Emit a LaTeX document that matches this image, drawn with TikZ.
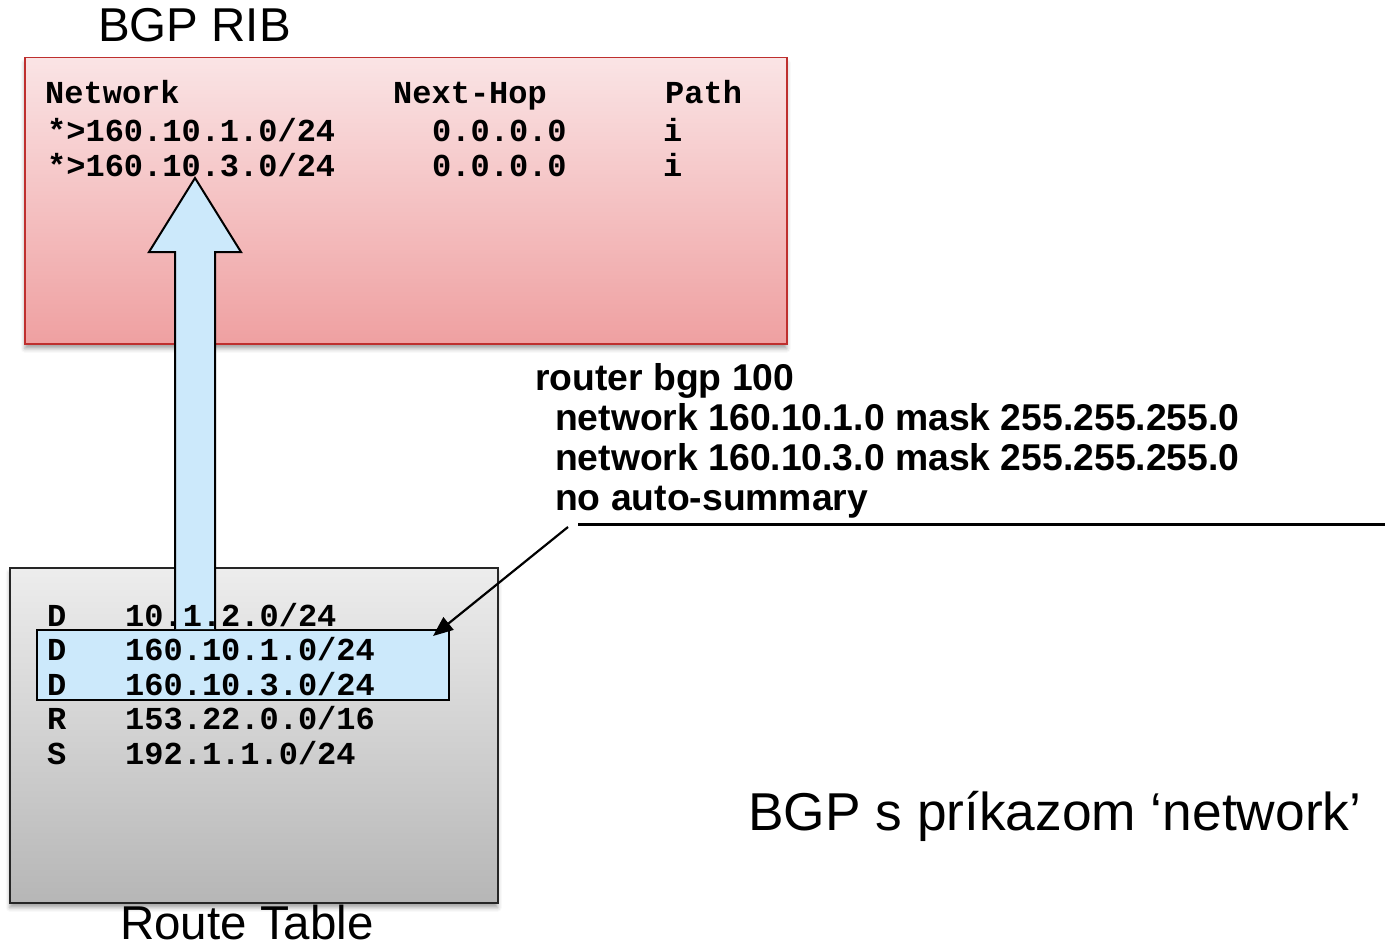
\documentclass[tikz,border=0pt]{standalone}
\usepackage{fontspec}
\setmainfont{Liberation Sans}
\newfontfamily\codefont{Liberation Mono}
\usetikzlibrary{arrows.meta,shadows.blur}

\definecolor{ribtop}{HTML}{FAE4E5}
\definecolor{ribbot}{HTML}{EFA0A1}
\definecolor{ribborder}{HTML}{BE2F2E}
\definecolor{rttop}{HTML}{EDEDED}
\definecolor{rtbot}{HTML}{B6B6B6}
\definecolor{selfill}{HTML}{CCE9FB}

\begin{document}
\begin{tikzpicture}[x=1pt,y=-1pt,
  boxshadow/.style={blur shadow={shadow xshift=0pt, shadow yshift=-5pt,
      shadow blur radius=4pt, shadow opacity=35}},
  ribbox/.style={draw=ribborder, line width=1.5pt, top color=ribtop,
      bottom color=ribbot, anchor=north west, inner sep=0pt,
      minimum width=762pt, minimum height=286pt, boxshadow},
  rtbox/.style={draw=black!85, line width=1.5pt, top color=rttop,
      bottom color=rtbot, anchor=north west, inner sep=0pt,
      minimum width=488pt, minimum height=335pt, boxshadow},
  selbox/.style={draw=black, line width=2pt, fill=selfill,
      anchor=north west, inner sep=0pt,
      minimum width=412pt, minimum height=70pt},
  blockarrow/.style={draw=black, line width=2pt, fill=selfill, line join=miter},
  title/.style={anchor=base west, inner sep=0pt, font=\fontsize{47.5}{50}\selectfont},
  caption/.style={anchor=base west, inner sep=0pt, font=\fontsize{53.3}{56}\selectfont},
  code/.style={anchor=base west, inner sep=0pt,
      font=\codefont\bfseries\fontsize{32}{36}\selectfont},
  cfg/.style={anchor=base west, inner sep=0pt,
      font=\bfseries\fontsize{37.3}{40}\selectfont},
  pointer/.style={draw=black, line width=2.2pt,
      -{Triangle[length=20pt,width=16pt]}},
  rule/.style={draw=black, line width=3pt}
]
\useasboundingbox (0,0) rectangle (1385,947);

% BGP RIB table
\node[ribbox] (rib) at (24,57) {};
\node[title] (ribtitle) at (98,42) {BGP RIB};

% routing table
\node[rtbox] (rt) at (9,567) {};
\node[selbox] (sel) at (36,629) {};
\node[title] (rttitle) at (120,939) {Route Table};

% block arrow: selected routes are injected into the BGP RIB
\draw[blockarrow] (175,629) -- (175,252) -- (149,252) -- (195,178)
  -- (241,252) -- (215,252) -- (215,629);

% BGP RIB contents
\node[code] (hNet)  at (45,104)  {Network};
\node[code] (hHop)  at (393,104) {Next-Hop};
\node[code] (hPath) at (665,104) {Path};
\node[code] (r1Net)  at (47,142)  {*>160.10.1.0/24};
\node[code] (r1Hop)  at (432,142) {0.0.0.0};
\node[code] (r1Path) at (663,142) {i};
\node[code] (r2Net)  at (47,177)  {*>160.10.3.0/24};
\node[code] (r2Hop)  at (432,177) {0.0.0.0};
\node[code] (r2Path) at (663,177) {i};

% routing table contents
\node[code] (t1c) at (47,626) {D};
\node[code] (t1n) at (125,626) {10.1.2.0/24};
\node[code] (t2c) at (47,660) {D};
\node[code] (t2n) at (125,660) {160.10.1.0/24};
\node[code] (t3c) at (47,695) {D};
\node[code] (t3n) at (125,695) {160.10.3.0/24};
\node[code] (t4c) at (47,729) {R};
\node[code] (t4n) at (125,729) {153.22.0.0/16};
\node[code] (t5c) at (47,764) {S};
\node[code] (t5n) at (125,764) {192.1.1.0/24};

% router configuration
\node[cfg] (cfg1) at (535,390) {router bgp 100};
\node[cfg] (cfg2) at (555,430) {network 160.10.1.0 mask 255.255.255.0};
\node[cfg] (cfg3) at (555,470) {network 160.10.3.0 mask 255.255.255.0};
\node[cfg] (cfg4) at (555,510) {no auto-summary};

\coordinate (ruleL) at (578,524);
\coordinate (ruleR) at (1385,524);
\draw[rule] (ruleL) -- (ruleR);

\coordinate (ptrFrom) at (568,527);
\coordinate (ptrTo) at (433,636);
\draw[pointer] (ptrFrom) -- (ptrTo);

% caption
\node[caption] (cap) at (748,830) {BGP s príkazom ‘network’};
\end{tikzpicture}
\end{document}
